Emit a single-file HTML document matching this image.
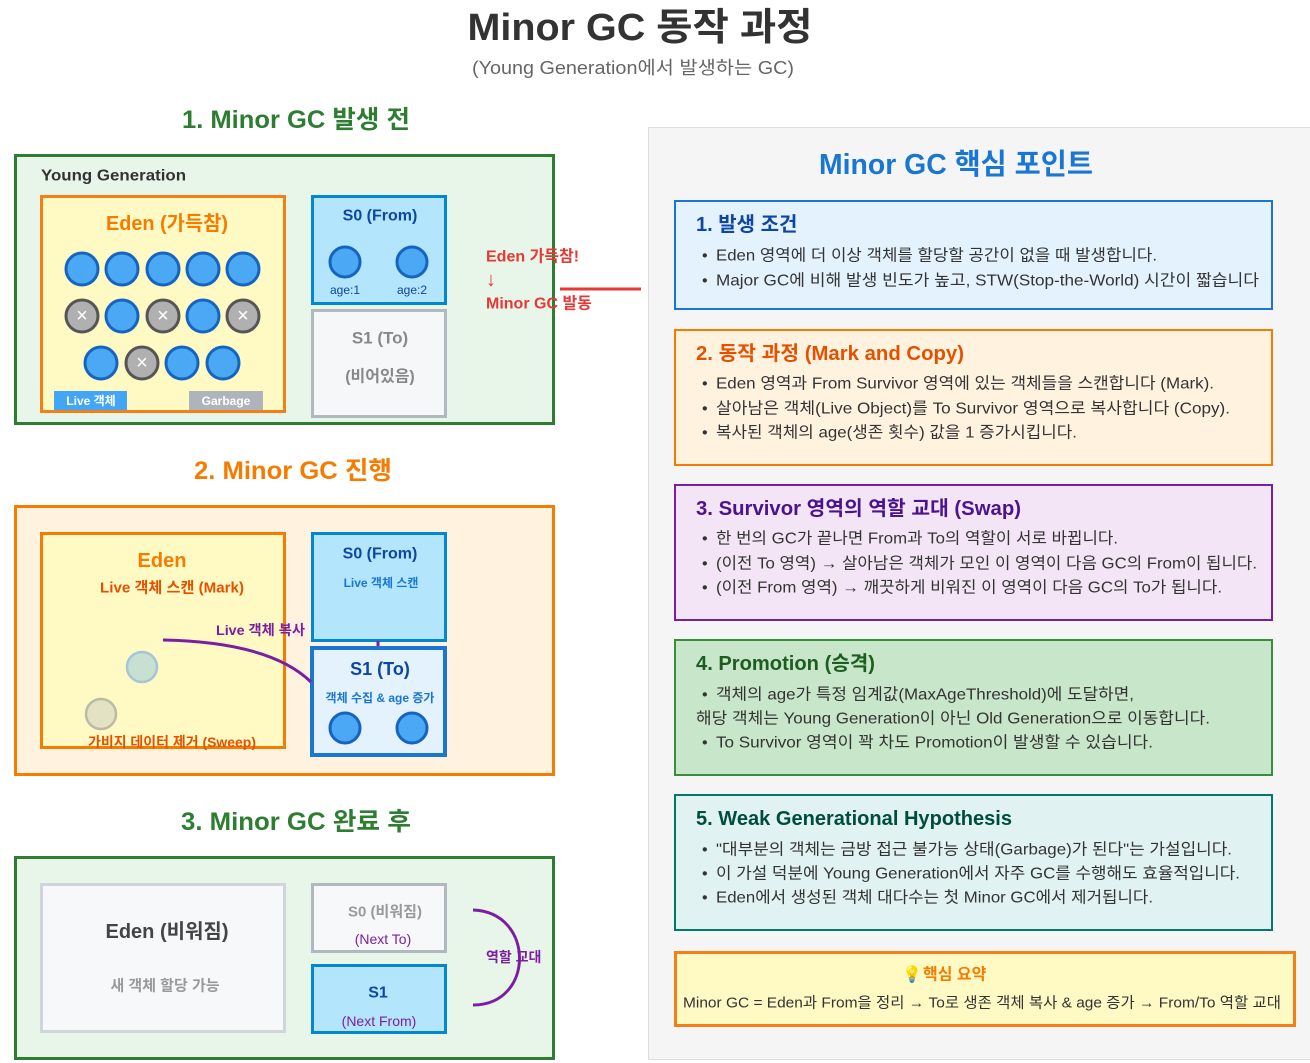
<!DOCTYPE html>
<html><head><meta charset="utf-8"><style>
html,body{margin:0;padding:0;background:#fff;}
svg{display:block;font-family:"Liberation Sans","Noto Sans CJK KR",sans-serif;}
text{dominant-baseline:central;transform:translateY(2px);}
</style></head><body>
<svg width="1310" height="1063" viewBox="0 0 1310 1063" xmlns="http://www.w3.org/2000/svg">
<rect width="1310" height="1063" fill="#fff"/>
<!-- titles -->
<text x="640" y="26" text-anchor="middle" font-size="38" font-weight="bold" fill="#333" textLength="345" lengthAdjust="spacingAndGlyphs">Minor GC 동작 과정</text>
<text x="633" y="66" text-anchor="middle" font-size="18" fill="#666" textLength="322" lengthAdjust="spacingAndGlyphs">(Young Generation에서 발생하는 GC)</text>

<!-- right panel -->
<rect x="648.5" y="127.5" width="665" height="932" fill="#f5f5f5" stroke="#ddd" stroke-width="1"/>

<!-- section 1 -->
<text x="296" y="118" text-anchor="middle" font-size="25" font-weight="bold" fill="#2e7d32" textLength="228" lengthAdjust="spacingAndGlyphs">1. Minor GC 발생 전</text>
<rect x="15.5" y="155.5" width="538" height="268" fill="#e8f5e9" stroke="#2e7d32" stroke-width="3"/>
<text x="41" y="174" font-size="16" font-weight="bold" fill="#333" textLength="145" lengthAdjust="spacingAndGlyphs">Young Generation</text>
<rect x="41.5" y="196.5" width="243" height="215" fill="#fff9c4" stroke="#f57f17" stroke-width="3"/>
<text x="167" y="222" text-anchor="middle" font-size="20" font-weight="bold" fill="#f57c00" textLength="122" lengthAdjust="spacingAndGlyphs">Eden (가득참)</text>
<g stroke-width="3">
<g fill="#4aa8f5" stroke="#1565c0">
<circle cx="82" cy="269" r="16"/><circle cx="122" cy="269" r="16"/><circle cx="163" cy="269" r="16"/><circle cx="203" cy="269" r="16"/><circle cx="243" cy="269" r="16"/>
<circle cx="122" cy="316" r="16"/><circle cx="203" cy="316" r="16"/>
<circle cx="101" cy="363" r="16"/><circle cx="182" cy="363" r="16"/><circle cx="223" cy="363" r="16"/>
</g>
<g fill="#b0b0b0" stroke="#555">
<circle cx="82" cy="316" r="16"/><circle cx="163" cy="316" r="16"/><circle cx="243" cy="316" r="16"/><circle cx="142" cy="363" r="16"/>
</g>
</g>
<g font-size="20" fill="#fff" text-anchor="middle">
<text x="82" y="314">×</text><text x="163" y="314">×</text><text x="243" y="314">×</text><text x="142" y="361">×</text>
</g>
<rect x="54" y="391" width="73" height="19" fill="#42a5f5"/>
<text x="91" y="399" text-anchor="middle" font-size="12" font-weight="bold" fill="#fff">Live 객체</text>
<rect x="189" y="391" width="74" height="19" fill="#aeb4bb"/>
<text x="226" y="399" text-anchor="middle" font-size="12" font-weight="bold" fill="#fff">Garbage</text>

<rect x="312.5" y="196.5" width="133" height="107" fill="#b3e5fc" stroke="#0288d1" stroke-width="3"/>
<text x="380" y="214" text-anchor="middle" font-size="16" font-weight="bold" fill="#0d47a1">S0 (From)</text>
<circle cx="345" cy="262" r="15" fill="#4aa8f5" stroke="#1565c0" stroke-width="3"/>
<circle cx="412" cy="262" r="15" fill="#4aa8f5" stroke="#1565c0" stroke-width="3"/>
<text x="345" y="288" text-anchor="middle" font-size="12" fill="#0d47a1">age:1</text>
<text x="412" y="288" text-anchor="middle" font-size="12" fill="#0d47a1">age:2</text>
<rect x="312.5" y="310.5" width="133" height="106" fill="#f6f7f9" stroke="#b0b8c0" stroke-width="3"/>
<text x="380" y="336" text-anchor="middle" font-size="17" font-weight="bold" fill="#888">S1 (To)</text>
<text x="380" y="375" text-anchor="middle" font-size="16" font-weight="bold" fill="#888">(비어있음)</text>

<line x1="560" y1="289" x2="641" y2="289" stroke="#e53935" stroke-width="3"/>
<g font-size="16" font-weight="bold" fill="#e53935">
<text x="486" y="255">Eden 가득참!</text>
<text x="486" y="278" font-size="20">↓</text>
<text x="486" y="302">Minor GC 발동</text>
</g>

<!-- section 2 -->
<text x="293" y="469" text-anchor="middle" font-size="25" font-weight="bold" fill="#f57c00" textLength="198" lengthAdjust="spacingAndGlyphs">2. Minor GC 진행</text>
<rect x="15.5" y="506.5" width="538" height="268" fill="#fff3e0" stroke="#f57c00" stroke-width="3"/>
<rect x="41.5" y="533.5" width="243" height="214" fill="#fff9c4" stroke="#f57c00" stroke-width="3"/>
<text x="162" y="559" text-anchor="middle" font-size="20" font-weight="bold" fill="#f57c00">Eden</text>
<text x="172" y="586" text-anchor="middle" font-size="15" font-weight="bold" fill="#e65100" textLength="144" lengthAdjust="spacingAndGlyphs">Live 객체 스캔 (Mark)</text>
<circle cx="142" cy="667" r="15" fill="#c8e0d2" stroke="#a3c6d8" stroke-width="2.5"/>
<circle cx="101" cy="714" r="15" fill="#e3e2c2" stroke="#bbb9a8" stroke-width="2.5"/>
<text x="172" y="740" text-anchor="middle" font-size="14" font-weight="bold" fill="#e65100" textLength="168" lengthAdjust="spacingAndGlyphs">가비지 데이터 제거 (Sweep)</text>

<rect x="312.5" y="533.5" width="133" height="107" fill="#b3e5fc" stroke="#0288d1" stroke-width="3"/>
<text x="380" y="552" text-anchor="middle" font-size="16" font-weight="bold" fill="#0d47a1">S0 (From)</text>
<text x="381" y="581" text-anchor="middle" font-size="12" font-weight="bold" fill="#1976d2">Live 객체 스캔</text>
<line x1="378" y1="641" x2="378" y2="647" stroke="#7b1fa2" stroke-width="3"/>
<rect x="312" y="648" width="133" height="107" fill="#e3f2fd" stroke="#1976d2" stroke-width="4"/>
<text x="380" y="667" text-anchor="middle" font-size="18" font-weight="bold" fill="#0d47a1">S1 (To)</text>
<text x="380" y="696" text-anchor="middle" font-size="12" font-weight="bold" fill="#1976d2">객체 수집 &amp; age 증가</text>
<circle cx="345" cy="728" r="15" fill="#4aa8f5" stroke="#1565c0" stroke-width="3"/>
<circle cx="412" cy="728" r="15" fill="#4aa8f5" stroke="#1565c0" stroke-width="3"/>
<path d="M163,640 Q270,642 311,682" fill="none" stroke="#7b1fa2" stroke-width="3"/>
<text x="216" y="628" font-size="14" font-weight="bold" fill="#7b1fa2" textLength="89" lengthAdjust="spacingAndGlyphs">Live 객체 복사</text>

<!-- section 3 -->
<text x="296" y="820" text-anchor="middle" font-size="25" font-weight="bold" fill="#2e7d32" textLength="230" lengthAdjust="spacingAndGlyphs">3. Minor GC 완료 후</text>
<rect x="15.5" y="857.5" width="538" height="201" fill="#e8f5e9" stroke="#2e7d32" stroke-width="3"/>
<rect x="41.5" y="884.5" width="243" height="147" fill="#f7f8fa" stroke="#d0d5db" stroke-width="3"/>
<text x="167" y="930" text-anchor="middle" font-size="20" font-weight="bold" fill="#444">Eden (비워짐)</text>
<text x="165" y="984" text-anchor="middle" font-size="15" font-weight="bold" fill="#999">새 객체 할당 가능</text>
<rect x="312.5" y="884.5" width="133" height="67" fill="#f7f8fa" stroke="#b0b8c0" stroke-width="3"/>
<text x="385" y="910" text-anchor="middle" font-size="15" font-weight="bold" fill="#999">S0 (비워짐)</text>
<text x="383" y="937" text-anchor="middle" font-size="14" fill="#7b1fa2">(Next To)</text>
<rect x="312.5" y="965.5" width="133" height="67" fill="#b3e5fc" stroke="#0288d1" stroke-width="3"/>
<text x="378" y="991" text-anchor="middle" font-size="16" font-weight="bold" fill="#0d47a1">S1</text>
<text x="379" y="1019" text-anchor="middle" font-size="14" fill="#7b1fa2">(Next From)</text>
<path d="M473,910 C535,912 535,1005 473,1005" fill="none" stroke="#7b1fa2" stroke-width="3"/>
<text x="486" y="955" font-size="14" font-weight="bold" fill="#7b1fa2">역할 교대</text>

<!-- right panel content -->
<text x="956" y="163" text-anchor="middle" font-size="29" font-weight="bold" fill="#1976d2" textLength="274" lengthAdjust="spacingAndGlyphs">Minor GC 핵심 포인트</text>

<rect x="675" y="201" width="597" height="108" fill="#e3f2fd" stroke="#1976d2" stroke-width="2"/>
<text x="696" y="223" font-size="20" font-weight="bold" fill="#0d47a1">1. 발생 조건</text>
<g font-size="16" fill="#333">
<text x="702" y="254">•</text><text x="716" y="254" textLength="441" lengthAdjust="spacingAndGlyphs">Eden 영역에 더 이상 객체를 할당할 공간이 없을 때 발생합니다.</text>
<text x="702" y="279">•</text><text x="716" y="279" textLength="543" lengthAdjust="spacingAndGlyphs">Major GC에 비해 발생 빈도가 높고, STW(Stop-the-World) 시간이 짧습니다</text>
</g>

<rect x="675" y="330" width="597" height="135" fill="#fff3e0" stroke="#f57c00" stroke-width="2"/>
<text x="696" y="352" font-size="20" font-weight="bold" fill="#e65100" textLength="268" lengthAdjust="spacingAndGlyphs">2. 동작 과정 (Mark and Copy)</text>
<g font-size="16" fill="#333">
<text x="702" y="382">•</text><text x="716" y="382" textLength="498" lengthAdjust="spacingAndGlyphs">Eden 영역과 From Survivor 영역에 있는 객체들을 스캔합니다 (Mark).</text>
<text x="702" y="407">•</text><text x="716" y="407" textLength="514" lengthAdjust="spacingAndGlyphs">살아남은 객체(Live Object)를 To Survivor 영역으로 복사합니다 (Copy).</text>
<text x="702" y="431">•</text><text x="716" y="431" textLength="361" lengthAdjust="spacingAndGlyphs">복사된 객체의 age(생존 횟수) 값을 1 증가시킵니다.</text>
</g>

<rect x="675" y="485" width="597" height="135" fill="#f3e5f5" stroke="#7b1fa2" stroke-width="2"/>
<text x="696" y="507" font-size="20" font-weight="bold" fill="#4a148c" textLength="325" lengthAdjust="spacingAndGlyphs">3. Survivor 영역의 역할 교대 (Swap)</text>
<g font-size="16" fill="#333">
<text x="702" y="537">•</text><text x="716" y="537" textLength="402" lengthAdjust="spacingAndGlyphs">한 번의 GC가 끝나면 From과 To의 역할이 서로 바뀝니다.</text>
<text x="702" y="562">•</text><text x="716" y="562" textLength="541" lengthAdjust="spacingAndGlyphs">(이전 To 영역) → 살아남은 객체가 모인 이 영역이 다음 GC의 From이 됩니다.</text>
<text x="702" y="586">•</text><text x="716" y="586" textLength="506" lengthAdjust="spacingAndGlyphs">(이전 From 영역) → 깨끗하게 비워진 이 영역이 다음 GC의 To가 됩니다.</text>
</g>

<rect x="675" y="640" width="597" height="135" fill="#c8e6c9" stroke="#388e3c" stroke-width="2"/>
<text x="696" y="662" font-size="20" font-weight="bold" fill="#1b5e20" textLength="179" lengthAdjust="spacingAndGlyphs">4. Promotion (승격)</text>
<g font-size="16" fill="#333">
<text x="702" y="693">•</text><text x="716" y="693" textLength="418" lengthAdjust="spacingAndGlyphs">객체의 age가 특정 임계값(MaxAgeThreshold)에 도달하면,</text>
<text x="696" y="717" textLength="514" lengthAdjust="spacingAndGlyphs">해당 객체는 Young Generation이 아닌 Old Generation으로 이동합니다.</text>
<text x="702" y="741">•</text><text x="716" y="741" textLength="437" lengthAdjust="spacingAndGlyphs">To Survivor 영역이 꽉 차도 Promotion이 발생할 수 있습니다.</text>
</g>

<rect x="675" y="795" width="597" height="135" fill="#e0f2f1" stroke="#00796b" stroke-width="2"/>
<text x="696" y="817" font-size="20" font-weight="bold" fill="#004d40" textLength="316" lengthAdjust="spacingAndGlyphs">5. Weak Generational Hypothesis</text>
<g font-size="16" fill="#333">
<text x="702" y="848">•</text><text x="716" y="848" textLength="516" lengthAdjust="spacingAndGlyphs">"대부분의 객체는 금방 접근 불가능 상태(Garbage)가 된다"는 가설입니다.</text>
<text x="702" y="872">•</text><text x="716" y="872" textLength="524" lengthAdjust="spacingAndGlyphs">이 가설 덕분에 Young Generation에서 자주 GC를 수행해도 효율적입니다.</text>
<text x="702" y="896">•</text><text x="716" y="896" textLength="437" lengthAdjust="spacingAndGlyphs">Eden에서 생성된 객체 대다수는 첫 Minor GC에서 제거됩니다.</text>
</g>

<rect x="675.5" y="952.5" width="619" height="73" fill="#fff9c4" stroke="#f57f17" stroke-width="3"/>
<text x="912" y="973" font-size="16" text-anchor="middle" fill="#f9a825">💡</text>
<text x="923" y="973" font-size="16" font-weight="bold" fill="#f57c00">핵심 요약</text>
<text x="683" y="1001" font-size="15" fill="#333" textLength="598" lengthAdjust="spacingAndGlyphs">Minor GC = Eden과 From을 정리 → To로 생존 객체 복사 &amp; age 증가 → From/To 역할 교대</text>
</svg>
</body></html>
